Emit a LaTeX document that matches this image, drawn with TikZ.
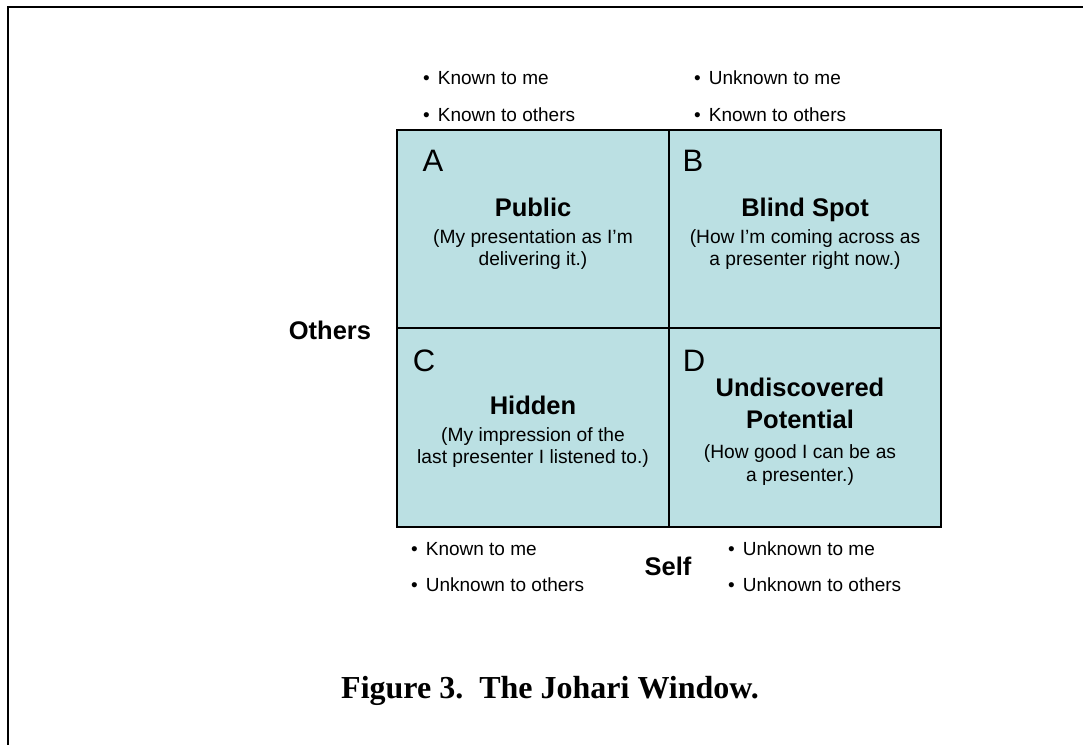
\documentclass[tikz,border=0pt]{standalone}
\usepackage{fontspec}
\setmainfont{Liberation Sans}
\newfontfamily\capfont{Liberation Serif}
\definecolor{quadfill}{RGB}{187,224,227}
\tikzset{
  bullet/.style={anchor=base west, inner sep=0pt, font=\fontsize{19}{22}\selectfont},
  letter/.style={anchor=base, inner sep=0pt, font=\fontsize{31}{36}\selectfont},
  title/.style={anchor=base, inner sep=0pt, font=\bfseries\fontsize{25.5}{30}\selectfont},
  desc/.style={anchor=base, inner sep=0pt, font=\fontsize{19.2}{22}\selectfont},
  axis/.style={anchor=base, inner sep=0pt, font=\bfseries\fontsize{25.5}{30}\selectfont},
  caption/.style={anchor=base, inner sep=0pt, font=\capfont\bfseries\fontsize{32}{36}\selectfont},
  gridline/.style={line width=1.3pt, black},
  frameline/.style={line width=2pt, black}
}
\newcommand{\bul}[1]{\textbullet\hspace{8pt}#1}
\begin{document}
\begin{tikzpicture}[x=1pt,y=-1pt]
\useasboundingbox (0,0) rectangle (1083,745);
% frame
\draw[frameline] (1083,7) -- (8,7) -- (8,745);
% grid
\fill[quadfill] (397,130) rectangle (941,527);
\draw[gridline] (397,130) rectangle (941,527);
\draw[gridline] (669,130) -- (669,527);
\draw[gridline] (397,328) -- (941,328);
% top bullets
\node[bullet] (tl1) at (423,84) {\bul{Known to me}};
\node[bullet] (tl2) at (423,121) {\bul{Known to others}};
\node[bullet] (tr1) at (694,84) {\bul{Unknown to me}};
\node[bullet] (tr2) at (694,121) {\bul{Known to others}};
% bottom bullets
\node[bullet] (bl1) at (411,555) {\bul{Known to me}};
\node[bullet] (bl2) at (411,591) {\bul{Unknown to others}};
\node[bullet] (br1) at (728,555) {\bul{Unknown to me}};
\node[bullet] (br2) at (728,591) {\bul{Unknown to others}};
% axes
\node[axis] (others) at (330,339) {Others};
\node[axis] (self) at (668,575) {Self};
% letters
\node[letter] (la) at (433,171) {A};
\node[letter] (lb) at (693,171) {B};
\node[letter] (lc) at (424,371) {C};
\node[letter] (ld) at (694,371) {D};
% A
\node[title] (ta) at (533,216) {Public};
\node[desc] (da1) at (533,243) {(My presentation as I’m};
\node[desc] (da2) at (533,265) {delivering it.)};
% B
\node[title] (tb) at (805,216) {Blind Spot};
\node[desc] (db1) at (805,243) {(How I’m coming across as};
\node[desc] (db2) at (805,265) {a presenter right now.)};
% C
\node[title] (tc) at (533,414) {Hidden};
\node[desc] (dc1) at (533,441) {(My impression of the};
\node[desc] (dc2) at (533,463) {last presenter I listened to.)};
% D
\node[title] (td1) at (800,396) {Undiscovered};
\node[title] (td2) at (800,428) {Potential};
\node[desc] (dd1) at (800,458) {(How good I can be as};
\node[desc] (dd2) at (800,481) {a presenter.)};
% caption
\node[caption] (cap) at (550,698) {Figure 3.\ \ The Johari Window.};
\end{tikzpicture}
\end{document}
